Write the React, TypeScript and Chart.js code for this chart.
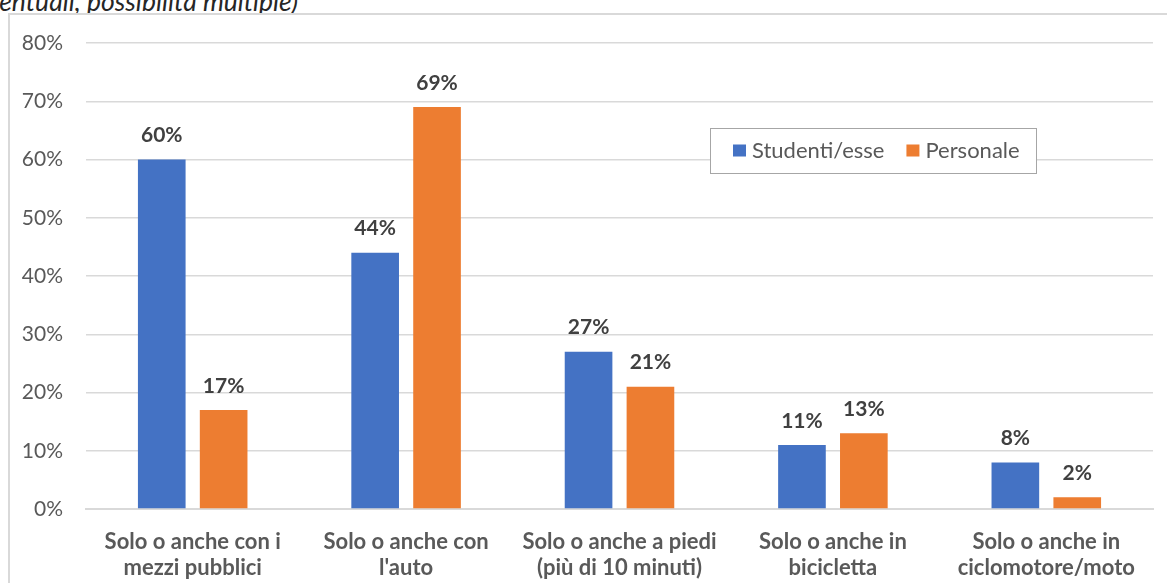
import React, { useEffect, useRef } from "react";
import { Chart, registerables } from "chart.js";

Chart.register(...registerables);

const categories: string[][] = [
  ["Solo o anche con i", "mezzi pubblici"],
  ["Solo o anche con", "l'auto"],
  ["Solo o anche a piedi", "(più di 10 minuti)"],
  ["Solo o anche in", "bicicletta"],
  ["Solo o anche in", "ciclomotore/moto"],
];
const seriesNames = ["Studenti/esse", "Personale"];
const studenti = [60, 44, 27, 11, 8];
const personale = [17, 69, 21, 13, 2];
const seriesColors = ["#4472C4", "#ED7D31"];
const yTicks = [0, 10, 20, 30, 40, 50, 60, 70, 80];

const FONT = "Lato, 'Open Sans', sans-serif";

// Percent labels above each bar
const valueLabels = {
  id: "valueLabels",
  afterDatasetsDraw(chart: any) {
    const { ctx } = chart;
    ctx.save();
    ctx.font = `bold 21px ${FONT}`;
    ctx.fillStyle = "#404040";
    ctx.textAlign = "center";
    ctx.textBaseline = "middle";
    chart.data.datasets.forEach((ds: any, i: number) => {
      const meta = chart.getDatasetMeta(i);
      meta.data.forEach((el: any, j: number) => {
        ctx.fillText(`${ds.data[j]}%`, el.x, el.y - 24);
      });
    });
    ctx.restore();
  },
};

// Boxed legend placed inside the plot area
const boxedLegend = {
  id: "boxedLegend",
  afterDraw(chart: any) {
    const { ctx, chartArea } = chart;
    const left = chartArea.left + 624;
    const top = 128;
    const width = 326;
    const height = 45;
    ctx.save();
    ctx.fillStyle = "#ffffff";
    ctx.fillRect(left, top, width, height);
    ctx.strokeStyle = "#a6a6a6";
    ctx.lineWidth = 1;
    ctx.strokeRect(left + 0.5, top + 0.5, width, height);
    ctx.font = `22px ${FONT}`;
    ctx.textBaseline = "middle";
    ctx.textAlign = "left";
    const cy = top + height / 2;
    let x = left + 23;
    chart.data.datasets.forEach((ds: any) => {
      ctx.fillStyle = ds.backgroundColor;
      ctx.fillRect(x, cy - 6, 13, 12);
      ctx.fillStyle = "#595959";
      ctx.fillText(ds.label, x + 19, cy);
      x += 19 + ctx.measureText(ds.label).width + 22;
    });
    ctx.restore();
  },
};

export default function App() {
  const canvasRef = useRef<HTMLCanvasElement | null>(null);

  useEffect(() => {
    if (!canvasRef.current) return;
    const chart = new Chart(canvasRef.current, {
      type: "bar",
      data: {
        labels: categories,
        datasets: [
          { label: seriesNames[0], data: studenti, backgroundColor: seriesColors[0] },
          { label: seriesNames[1], data: personale, backgroundColor: seriesColors[1] },
        ],
      },
      options: {
        animation: false,
        responsive: false,
        maintainAspectRatio: false,
        layout: { padding: { top: 43, right: 14, left: 0, bottom: 0 } },
        datasets: { bar: { categoryPercentage: 0.58, barPercentage: 0.77 } },
        plugins: {
          legend: { display: false },
          tooltip: { enabled: false },
          title: { display: false },
        },
        scales: {
          x: {
            grid: { display: false },
            border: { display: true, color: "#d9d9d9", width: 2 },
            ticks: {
              color: "#595959",
              font: { family: FONT, size: 22, weight: "bold", lineHeight: 1.18 },
              padding: 12,
              maxRotation: 0,
              autoSkip: false,
            },
            afterFit(scale: any) {
              scale.height = 74;
            },
          },
          y: {
            min: 0,
            max: 80,
            afterBuildTicks(scale: any) {
              scale.ticks = yTicks.map((v) => ({ value: v }));
            },
            grid: { color: "#d9d9d9", lineWidth: 1.5, drawTicks: false },
            border: { display: false },
            ticks: {
              color: "#595959",
              font: { family: FONT, size: 21 },
              padding: 23,
              callback: (v: any) => `${v}%`,
            },
            afterFit(scale: any) {
              scale.width = 86;
            },
          },
        },
      },
      plugins: [valueLabels, boxedLegend],
    });
    return () => chart.destroy();
  }, []);

  return (
    <div
      style={{
        position: "fixed",
        left: 0,
        top: 0,
        width: 1167,
        height: 583,
        overflow: "hidden",
        background: "#ffffff",
      }}
    >
      <div
        style={{
          position: "absolute",
          right: 1167 - 298,
          top: -14,
          whiteSpace: "nowrap",
          fontFamily: FONT,
          fontStyle: "italic",
          fontWeight: 400,
          fontSize: 26.5,
          lineHeight: "30px",
          color: "#262626",
        }}
      >
        entuali, possibilità multiple)
      </div>
      <div
        style={{
          position: "absolute",
          left: 8,
          top: 13,
          width: 1170,
          height: 600,
          border: "2px solid #d9d9d9",
          boxSizing: "border-box",
          background: "#ffffff",
        }}
      />
      <canvas
        ref={canvasRef}
        width={1167}
        height={583}
        style={{ position: "absolute", left: 0, top: 0, width: 1167, height: 583 }}
      />
    </div>
  );
}
